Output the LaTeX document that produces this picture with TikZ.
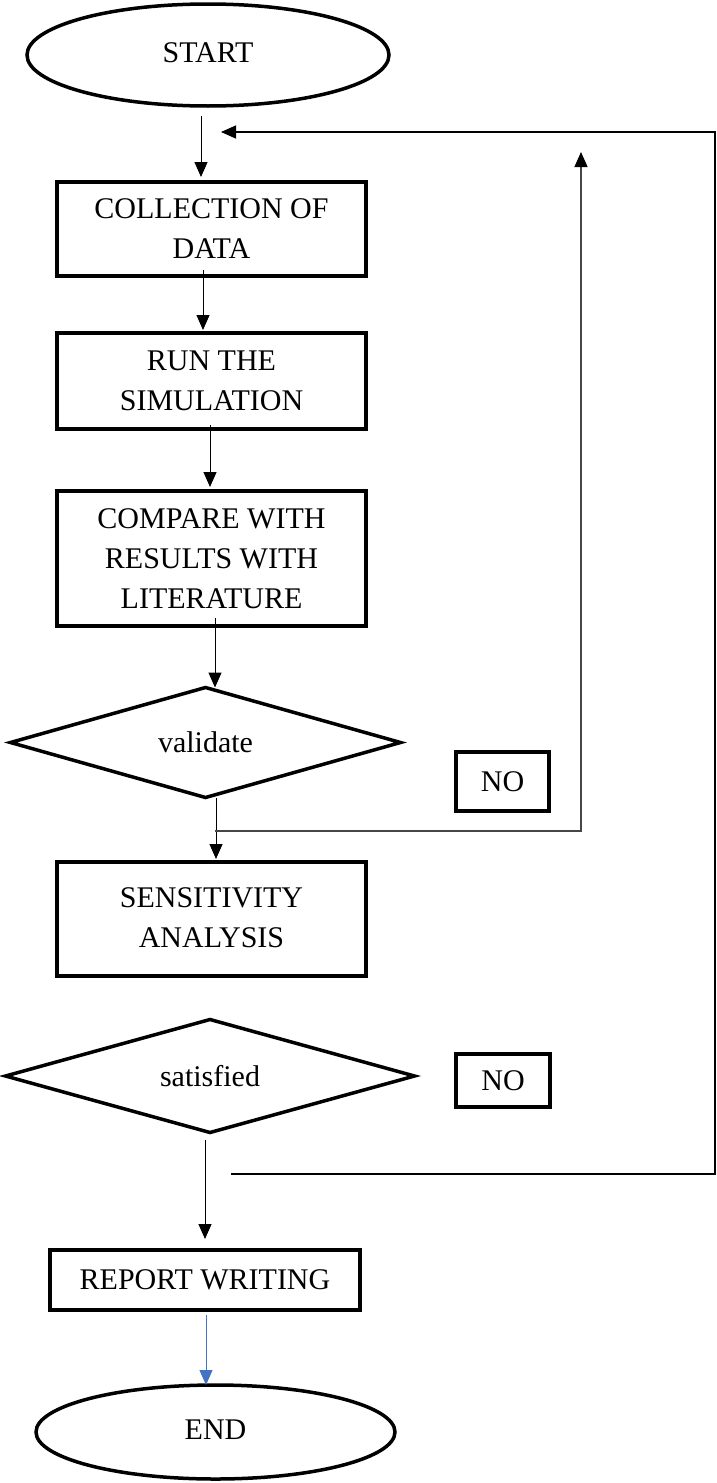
\documentclass[tikz,border=0pt]{standalone}
\usepackage{fontspec}
\setmainfont{Liberation Serif}
\usetikzlibrary{shapes.geometric,arrows.meta,calc}
\definecolor{loopgray}{RGB}{70,70,70}
\definecolor{wordblue}{RGB}{68,114,196}
\begin{document}
\begin{tikzpicture}[x=1pt,y=-1pt,
  every node/.style={font=\fontsize{30}{40}\selectfont, align=center, inner sep=0pt, outer sep=0pt},
  procbox/.style={draw, line width=3.5pt, rectangle, minimum width=309pt},
  term/.style={draw, line width=3.5pt, ellipse},
  decide/.style={draw, line width=3.5pt, diamond, aspect=3.4},
  nobox/.style={draw, line width=3.5pt, rectangle},
  tip/.style={-{Triangle[length=15pt,width=13pt,#1]}},
  tip/.default=black,
  arr/.style={line width=1pt, tip},
  loopline/.style={line width=1.3pt, draw=loopgray},
]
\useasboundingbox (0,0) rectangle (716,1483);

% nodes
\node[term, minimum width=362pt, minimum height=102pt] (start) at (208,55) {\raisebox{5pt}{START}};
\node[procbox, minimum height=94pt] (coll) at (211.5,229) {COLLECTION OF\\DATA};
\node[procbox, minimum height=96pt] (run) at (211.5,381) {RUN THE\\SIMULATION};
\node[procbox, minimum height=135pt] (comp) at (211.5,558.5) {COMPARE WITH\\RESULTS WITH\\LITERATURE};
\node[decide, minimum width=390pt, minimum height=110pt] (val) at (205.5,742.5) {validate};
\node[nobox, minimum width=93pt, minimum height=59pt] (no1) at (502.5,781.5) {NO};
\node[procbox, minimum height=114pt] (sens) at (211.5,919) {\raisebox{8pt}{\begin{tabular}{@{}c@{}}SENSITIVITY\\ANALYSIS\end{tabular}}};
\node[decide, minimum width=409pt, minimum height=113pt] (sat) at (210,1076) {satisfied};
\node[nobox, minimum width=94pt, minimum height=53pt] (no2) at (503,1080.5) {NO};
\node[procbox, minimum width=310pt, minimum height=60pt] (rep) at (205,1280) {REPORT WRITING};
\node[term, minimum width=359pt, minimum height=94pt] (end) at (215.5,1432) {\raisebox{4pt}{END}};

% free-end coordinates of the loops
\coordinate (c1) at (581,831);
\coordinate (c2) at (581,152);
\coordinate (d1) at (231,1174);
\coordinate (d2) at (715,1174);
\coordinate (d3) at (715,132);
\coordinate (d4) at (221,132);

% main flow
\draw[arr] ($(start.south)+(-7,10)$) -- ($(coll.north)+(-10.5,-5)$);
\draw[arr] ($(coll.south)+(-8.5,-6)$) -- ($(run.north)+(-8.5,-3)$);
\draw[arr] ($(run.south)+(-1.5,-4)$) -- ($(comp.north)+(-1.5,-4)$);
\draw[arr] ($(comp.south)+(3.5,-8)$) -- ($(val.north)+(9.5,0)$);
\draw[arr] ($(val.south)+(10.5,0)$) -- ($(sens.north)+(4.5,-3)$);
\draw[arr] ($(sat.south)+(-5,7)$) -- ($(rep.north)+(0,-11)$);
\draw[line width=1pt, draw=wordblue, tip=wordblue] ($(rep.south)+(1,5)$) -- ($(end.north)+(-9.5,0)$);

% loop back from validate
\draw[loopline, tip] ($(val.south |- c1)+(9.5,0)$) -- (c1) -- (c2);
% loop back from satisfied
\draw[line width=1.3pt, tip] (d1) -- (d2) -- (d3) -- (d4);
\end{tikzpicture}
\end{document}
